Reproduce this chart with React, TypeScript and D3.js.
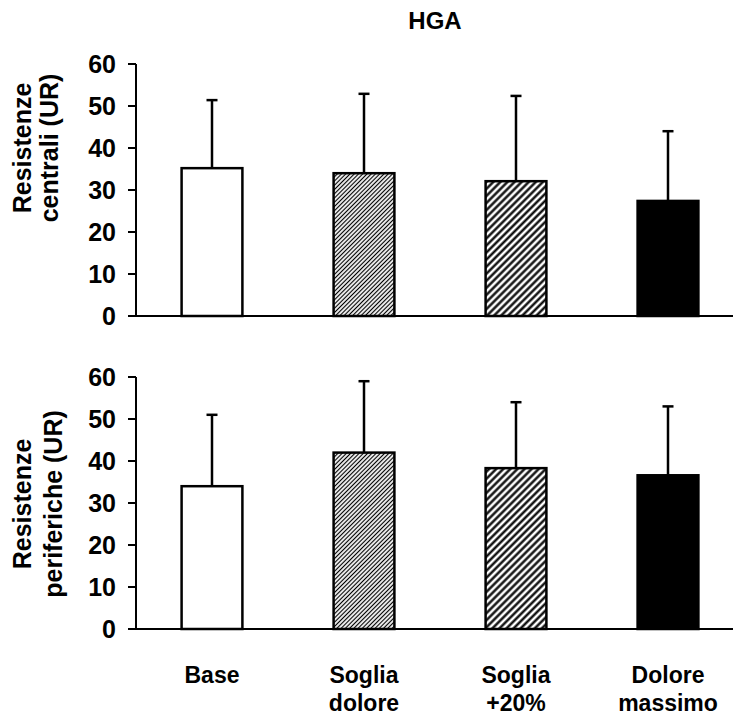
import React from "react"
import * as d3 from "d3"

const categories = ["Base", "Soglia dolore", "Soglia +20%", "Dolore massimo"]
const catLines = [["Base"], ["Soglia", "dolore"], ["Soglia", "+20%"], ["Dolore", "massimo"]]
const centrali = [35.2, 34, 32.1, 27.4]
const centraliSD = [51.4, 52.9, 52.4, 44]
const periferiche = [34, 42, 38.3, 36.6]
const perifericheSD = [51, 59, 54, 53]
const yTicks = [0, 10, 20, 30, 40, 50, 60]
const fills = ["#ffffff", "url(#fine)", "url(#coarse)", "#000000"]

const W = 733, H = 717
const font = "'Liberation Sans', Arial, sans-serif"

function Panel({ vals, sd, top, bottom, label }: any) {
  const x = d3.scaleBand().domain(categories).range([136, 744]).paddingInner(0.6).paddingOuter(0.3)
  const y = d3.scaleLinear().domain([0, 60]).range([bottom, top])
  return (
    <g>
      {vals.map((v: number, i: number) => {
        const cx = x(categories[i])! + x.bandwidth() / 2
        return (
          <g key={i}>
            <line x1={cx} x2={cx} y1={y(v)} y2={y(sd[i])} stroke="#000" strokeWidth={2.5} />
            <line x1={cx - 5.5} x2={cx + 5.5} y1={y(sd[i])} y2={y(sd[i])} stroke="#000" strokeWidth={2.5} />
            <rect x={x(categories[i])} y={y(v)} width={x.bandwidth()} height={y(0) - y(v)}
              fill={fills[i]} stroke="#000" strokeWidth={2.5} />
          </g>
        )
      })}
      <line x1={136} x2={W} y1={y(0)} y2={y(0)} stroke="#000" strokeWidth={2} />
      <line x1={136} x2={136} y1={y(0)} y2={y(60)} stroke="#000" strokeWidth={2} />
      {yTicks.map(t => (
        <g key={t}>
          <line x1={128} x2={136} y1={y(t)} y2={y(t)} stroke="#000" strokeWidth={2} />
          <text x={116} y={y(t)} dy="0.36em" textAnchor="end" fontSize={25} fontWeight="bold"
            fontFamily={font}>{t}</text>
        </g>
      ))}
      <text transform={`translate(0,${label.cy}) rotate(-90)`} textAnchor="middle" fontSize={25}
        fontWeight="bold" fontFamily={font}>
        <tspan x={0} y={31}>Resistenze</tspan>
        <tspan x={0} y={label.y2}>{label.text}</tspan>
      </text>
    </g>
  )
}

export default function App() {
  const x = d3.scaleBand().domain(categories).range([136, 744]).paddingInner(0.6).paddingOuter(0.3)
  return (
    <svg width={W} height={H} style={{ position: "absolute", left: 0, top: 0, background: "#fff" }}>
      <defs>
        <pattern id="fine" width={3} height={3} patternUnits="userSpaceOnUse" patternTransform="rotate(45)">
          <rect width={3} height={3} fill="#fff" />
          <line x1={1.5} x2={1.5} y1={0} y2={3} stroke="#000" strokeWidth={1.2} />
        </pattern>
        <pattern id="coarse" width={5} height={5} patternUnits="userSpaceOnUse" patternTransform="rotate(45)">
          <rect width={5} height={5} fill="#fff" />
          <line x1={2.5} x2={2.5} y1={0} y2={5} stroke="#000" strokeWidth={2.3} />
        </pattern>
      </defs>
      <text x={435} y={29} textAnchor="middle" fontSize={24} fontWeight="bold" fontFamily={font}>HGA</text>
      <Panel vals={centrali} sd={centraliSD} top={64} bottom={316} label={{ cy: 148, y2: 58, text: "centrali (UR)" }} />
      <Panel vals={periferiche} sd={perifericheSD} top={377} bottom={629} label={{ cy: 504, y2: 62, text: "periferiche (UR)" }} />
      {catLines.map((lines, i) => (
        <text key={i} textAnchor="middle" fontSize={23} fontWeight="bold" fontFamily={font}>
          {lines.map((l, j) => (
            <tspan key={j} x={x(categories[i])! + x.bandwidth() / 2} y={683 + j * 28}>{l}</tspan>
          ))}
        </text>
      ))}
    </svg>
  )
}
